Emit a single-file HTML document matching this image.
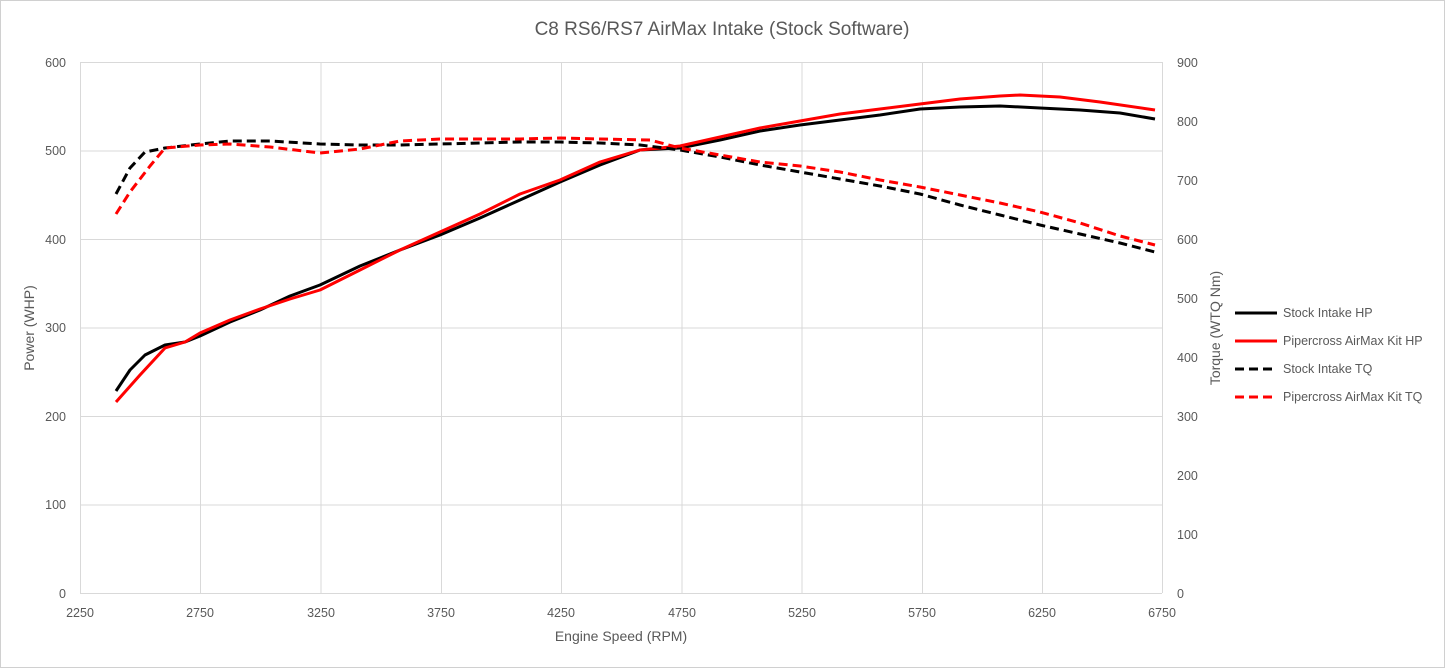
<!DOCTYPE html>
<html><head><meta charset="utf-8"><style>
body{margin:0;background:#fff;}
svg{display:block;font-family:"Liberation Sans",sans-serif;}
</style></head><body>
<svg width="1445" height="668" viewBox="0 0 1445 668">
<rect x="0.5" y="0.5" width="1444" height="667" fill="#fff" stroke="#d0d0d0"/>
<text x="722" y="35" text-anchor="middle" font-size="19" fill="#595959">C8 RS6/RS7 AirMax Intake (Stock Software)</text>
<g stroke="#d9d9d9" stroke-width="1">
<line x1="80" y1="62.5" x2="1162" y2="62.5"/><line x1="80" y1="151" x2="1162" y2="151"/>
<line x1="80" y1="239.5" x2="1162" y2="239.5"/><line x1="80" y1="328" x2="1162" y2="328"/>
<line x1="80" y1="416.5" x2="1162" y2="416.5"/><line x1="80" y1="505" x2="1162" y2="505"/>
<line x1="80" y1="593.5" x2="1162" y2="593.5"/>
<line x1="80.5" y1="62" x2="80.5" y2="593"/><line x1="200.5" y1="62" x2="200.5" y2="593"/>
<line x1="321" y1="62" x2="321" y2="593"/><line x1="441.5" y1="62" x2="441.5" y2="593"/>
<line x1="561.5" y1="62" x2="561.5" y2="593"/><line x1="682" y1="62" x2="682" y2="593"/>
<line x1="802" y1="62" x2="802" y2="593"/><line x1="922.5" y1="62" x2="922.5" y2="593"/>
<line x1="1042.5" y1="62" x2="1042.5" y2="593"/><line x1="1162.5" y1="62" x2="1162.5" y2="593"/>
</g>
<g font-size="12.5" fill="#595959" text-anchor="end">
<text x="66" y="67">600</text><text x="66" y="155">500</text><text x="66" y="244">400</text>
<text x="66" y="332">300</text><text x="66" y="421">200</text><text x="66" y="509">100</text><text x="66" y="598">0</text>
</g>
<g font-size="12.5" fill="#595959" text-anchor="start">
<text x="1177" y="67">900</text><text x="1177" y="126">800</text><text x="1177" y="185">700</text>
<text x="1177" y="244">600</text><text x="1177" y="303">500</text><text x="1177" y="362">400</text>
<text x="1177" y="421">300</text><text x="1177" y="480">200</text><text x="1177" y="539">100</text><text x="1177" y="598">0</text>
</g>
<g font-size="12.5" fill="#595959" text-anchor="middle">
<text x="80" y="617">2250</text><text x="200" y="617">2750</text><text x="321" y="617">3250</text>
<text x="441" y="617">3750</text><text x="561" y="617">4250</text><text x="682" y="617">4750</text>
<text x="802" y="617">5250</text><text x="922" y="617">5750</text><text x="1042" y="617">6250</text><text x="1162" y="617">6750</text>
</g>
<text x="621" y="641" text-anchor="middle" font-size="14" fill="#595959">Engine Speed (RPM)</text>
<text transform="translate(34,328) rotate(-90)" text-anchor="middle" font-size="14" fill="#595959">Power (WHP)</text>
<text transform="translate(1220,328) rotate(-90)" text-anchor="middle" font-size="14" fill="#595959">Torque (WTQ Nm)</text>
<g fill="none" stroke-width="3" stroke-linejoin="round" stroke-linecap="butt">
<polyline stroke="#000" points="116,391 130,370 145,355 165,345 185,342 200,336 230,322 260,310 290,296 320,285 360,266 400,250 440,235 480,218 520,200 560,182 600,165 640,150 680,148 720,140 760,131 800,125 840,120 880,115 920,109 960,107 1000,106 1040,108 1080,110 1120,113 1155,119"/>
<polyline stroke="#f00" points="116,402 140,375 165,348 185,342 200,333 230,320 260,309 290,299 320,290 360,270 400,250 440,232 480,214 520,194 560,180 600,162 640,150 680,146 720,137 760,128 800,121 840,114 880,109 920,104 960,99 1000,96 1020,95 1060,97 1100,102 1155,110"/>
<polyline stroke="#000" stroke-dasharray="9,5" points="116,194 130,168 145,152 165,148 200,144 230,141 270,141 320,144 360,145 400,145 440,144 480,143 520,142 560,142 600,143 640,145 680,150 720,157 760,165 800,172 840,179 880,186 920,194 960,205 1000,215 1040,225 1080,234 1120,243 1155,252"/>
<polyline stroke="#f00" stroke-dasharray="9,5" points="116,214 130,192 150,166 165,148 200,145 230,144 270,147 320,153 360,149 400,141 440,139 480,139 520,139 560,138 600,139 650,140 680,148 720,155 760,162 800,166 840,172 880,180 920,187 960,195 1000,203 1040,212 1080,223 1120,236 1155,245"/>
<line x1="1235" y1="313" x2="1277" y2="313" stroke="#000"/>
<line x1="1235" y1="341" x2="1277" y2="341" stroke="#f00"/>
<line x1="1235" y1="369" x2="1277" y2="369" stroke="#000" stroke-dasharray="9,5"/>
<line x1="1235" y1="397" x2="1277" y2="397" stroke="#f00" stroke-dasharray="9,5"/>
</g>
<g font-size="12.5" fill="#595959">
<text x="1283" y="317">Stock Intake HP</text>
<text x="1283" y="345">Pipercross AirMax Kit HP</text>
<text x="1283" y="373">Stock Intake TQ</text>
<text x="1283" y="401">Pipercross AirMax Kit TQ</text>
</g>
</svg>
</body></html>
